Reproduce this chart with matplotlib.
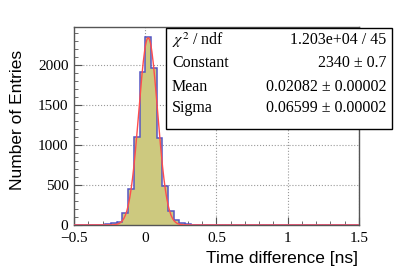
import numpy as np
import matplotlib
matplotlib.use("Agg")
import matplotlib.pyplot as plt
from matplotlib.patches import Rectangle

# bin centres (width 0.04) and counts
bin_width = 0.04
centres = np.array([-0.34, -0.30, -0.26, -0.22, -0.18, -0.14, -0.10, -0.06, -0.02,
                    0.02, 0.06, 0.10, 0.14, 0.18, 0.22, 0.26, 0.30, 0.34, 0.38,
                    0.42, 0.50, 0.82, 0.86])
counts = np.array([2, 4, 8, 21, 42, 146, 446, 1096, 1910,
                   2355, 1965, 1083, 487, 179, 62, 29, 12, 5, 3,
                   2, 2, 2, 2])

# gaussian fit results
fit_const = 2340.0
fit_mean = 0.02082
fit_sigma = 0.06599

stat_names = [r"$\chi^2$ / ndf", "Constant", "Mean", "Sigma"]
stat_values = ["1.203e+04 / 45", "2340 ± 0.7", "0.02082 ± 0.00002", "0.06599 ± 0.00002"]

# build full histogram on fixed edges
edges = np.arange(-0.52, 1.52 + 1e-9, bin_width)
h = np.zeros(len(edges) - 1)
idx = np.round((centres - edges[0]) / bin_width - 0.5).astype(int)
h[idx] = counts

plt.rcParams['mathtext.fontset'] = 'stix'
serif = 'Liberation Serif'
sans = 'Liberation Sans'

fig = plt.figure(figsize=(3.99, 2.71), dpi=100)
ax = fig.add_axes([0.1855, 0.1697, 0.714, 0.7306])

ax.stairs(h, edges, fill=True, color='#cdc97f', zorder=2)
ax.stairs(h, edges, color='#5555c4', lw=1.1, zorder=3)

xf = np.linspace(-0.5, 1.5, 400)
yf = fit_const * np.exp(-0.5 * ((xf - fit_mean) / fit_sigma) ** 2)
ax.plot(xf, yf, color='#ff4d4d', lw=1.0, zorder=4)

ax.set_xlim(-0.5, 1.5)
ax.set_ylim(0, 2475)
ax.set_xticks([-0.5, 0, 0.5, 1, 1.5])
ax.set_xticklabels(["\u22120.5", "0", "0.5", "1", "1.5"])
ax.set_xticks(np.arange(-0.5, 1.51, 0.1), minor=True)
ax.set_yticks([0, 500, 1000, 1500, 2000])
ax.set_yticks(np.arange(0, 2475, 100), minor=True)
ax.grid(True, which='major', ls=':', color='#999999', lw=0.8, zorder=1)
ax.tick_params(which='both', direction='in', color='#555555')
ax.tick_params(axis='x', which='major', length=6, width=0.8, pad=5, labelsize=11)
ax.tick_params(axis='y', which='major', length=6, width=0.8, pad=4, labelsize=11)
ax.tick_params(which='minor', length=3, width=0.6)
for lab in ax.get_xticklabels() + ax.get_yticklabels():
    lab.set_family(serif)
for s in ax.spines.values():
    s.set_color('#555555')
    s.set_linewidth(1.0)

fig.text(0.897, 0.02, "Time difference [ns]", ha='right', va='bottom',
         family=sans, fontsize=12.5)
fig.text(0.045, 1 - 50 / 271, "Number of Entries", ha='center', va='top', rotation=90,
         family=sans, fontsize=12.5)

# stat box
bx0, by0 = 166 / 399, 1 - 129 / 271
bw, bh = (392 - 166) / 399, (129 - 28) / 271
fig.patches.append(Rectangle((bx0, by0), bw, bh, transform=fig.transFigure,
                             facecolor='white', edgecolor='black', lw=1.0, zorder=5))
rows_y = [40, 63, 87, 108]
for name, val, yy in zip(stat_names, stat_values, rows_y):
    fig.text(172 / 399, 1 - yy / 271, name, ha='left', va='center',
             family=serif, fontsize=11.5, zorder=6)
    fig.text(386 / 399, 1 - yy / 271, val, ha='right', va='center',
             family=serif, fontsize=11.5, zorder=6)

fig.savefig("out.png", dpi=100)
